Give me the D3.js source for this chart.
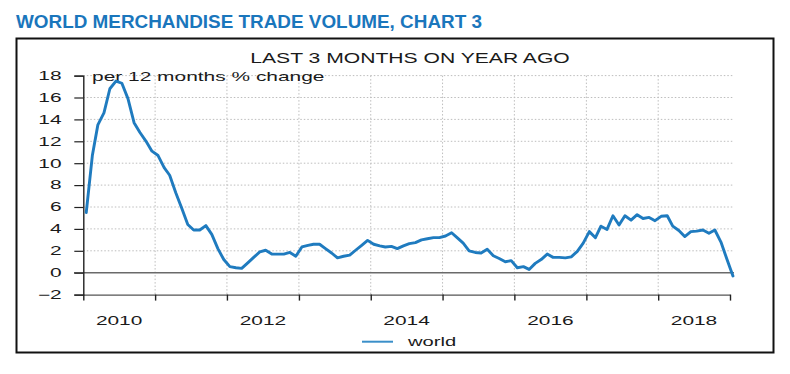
<!DOCTYPE html>
<html>
<head>
<meta charset="utf-8">
<script src="https://cdn.jsdelivr.net/npm/d3@7"></script>
<style>
  html, body { margin: 0; padding: 0; background: #fff; }
  svg { display: block; font-family: "Liberation Sans", Arial, Helvetica, sans-serif; }
</style>
</head>
<body>
<svg id="chart" width="790" height="374"></svg>
<script>
// ---- data ----
const startMonth = "2010-01";
const worldValues = [
  5.5, 10.7, 13.5, 14.6, 16.8, 17.5, 17.3, 15.9, 13.7, 12.8, 12.0, 11.1,
  10.7, 9.6, 8.9, 7.3, 5.9, 4.4, 3.9, 3.9, 4.3, 3.5, 2.2, 1.2,
  0.55, 0.45, 0.4, 0.9, 1.4, 1.9, 2.05, 1.7, 1.7, 1.7, 1.85, 1.5,
  2.35, 2.5, 2.6, 2.6, 2.2, 1.8, 1.35, 1.5, 1.6, 2.05, 2.5, 2.95,
  2.6, 2.45, 2.35, 2.4, 2.2, 2.45, 2.65, 2.75, 3.0, 3.1, 3.2, 3.2,
  3.35, 3.65, 3.2, 2.7, 2.0, 1.85, 1.8, 2.15, 1.55, 1.3, 1.0, 1.1,
  0.45, 0.55, 0.3, 0.85, 1.2, 1.7, 1.4, 1.4, 1.35, 1.45, 1.95, 2.7,
  3.75, 3.2, 4.25, 3.95, 5.2, 4.35, 5.2, 4.8, 5.3, 4.95, 5.05, 4.75,
  5.15, 5.2, 4.25, 3.85, 3.3, 3.75, 3.8, 3.9, 3.6, 3.9, 2.8, 1.25,
  -0.3
];
const yTicks = [-2, 0, 2, 4, 6, 8, 10, 12, 14, 16, 18];
const yearTicks = [2010, 2011, 2012, 2013, 2014, 2015, 2016, 2017, 2018, 2019];
const yearLabels = [2010, 2012, 2014, 2016, 2018];
const titleText = "WORLD MERCHANDISE TRADE VOLUME, CHART 3";
const subtitleText = "LAST 3 MONTHS ON YEAR AGO";
const unitText = "per 12 months % change";
const seriesName = "world";

// ---- build ----
const svg = d3.select("#chart");
const parseMonth = d3.timeParse("%Y-%m");
const start = parseMonth(startMonth);
const data = worldValues.map((v, i) => ({
  date: d3.timeDay.offset(d3.timeMonth.offset(start, i), 15),
  value: v
}));

const x = d3.scaleTime()
  .domain([new Date(2010, 0, 1), new Date(2019, 0, 1)])
  .range([83.3, 730]);
const y = d3.scaleLinear().domain([-2, 18]).range([294.6, 75.6]);

const SX_NUM = 1.74; // horizontal stretch of the embedded chart's numbers

function stretchedText(g, px, py, txt, size, anchor, sx) {
  return g.append("text")
    .attr("transform", `translate(${px},${py}) scale(${sx},1)`)
    .attr("text-anchor", anchor)
    .attr("font-size", size)
    .attr("fill", "#1a1a1a")
    .text(txt);
}

// title
svg.append("text")
  .attr("x", 16).attr("y", 28)
  .attr("font-size", 18.9).attr("font-weight", "bold")
  .attr("fill", "#1a76bc")
  .text(titleText);

// frame
svg.append("rect")
  .attr("x", 16.5).attr("y", 38.5).attr("width", 757).attr("height", 314)
  .attr("fill", "none").attr("stroke", "#111").attr("stroke-width", 2);

// gridlines
const grid = svg.append("g");
grid.selectAll("line.h").data(yTicks.filter(t => t > 0)).join("line")
  .attr("x1", x.range()[0]).attr("x2", x.range()[1] + 4)
  .attr("y1", d => y(d)).attr("y2", d => y(d))
  .attr("stroke", "#bdbdbd").attr("stroke-width", 1)
  .attr("stroke-dasharray", "1.5,2");
grid.selectAll("line.v").data(yearTicks.slice(1, -1)).join("line")
  .attr("x1", d => x(new Date(d, 0, 1))).attr("x2", d => x(new Date(d, 0, 1)))
  .attr("y1", y(18)).attr("y2", y(-2))
  .attr("stroke", "#bdbdbd").attr("stroke-width", 1)
  .attr("stroke-dasharray", "1.5,2");

// zero line
svg.append("line")
  .attr("x1", 74).attr("x2", x.range()[1] + 4)
  .attr("y1", y(0)).attr("y2", y(0))
  .attr("stroke", "#6a6a6a").attr("stroke-width", 1.6);

// y axis
const yAxis = d3.axisLeft(y).tickValues(yTicks).tickSize(9).tickFormat("");
const yg = svg.append("g").attr("transform", `translate(${x.range()[0]},0)`).call(yAxis);
yg.select(".domain").attr("stroke", "#222").attr("stroke-width", 1.4);
yg.selectAll(".tick line").attr("stroke", "#222").attr("stroke-width", 1.2);
const ylab = svg.append("g");
yTicks.forEach(t => {
  stretchedText(ylab, 61.5, y(t) + 4.3, d3.format("")(t).replace("-", "\u2212"), 12, "end", SX_NUM);
});

// x axis
const xAxis = d3.axisBottom(x)
  .tickValues(yearTicks.map(yv => new Date(yv, 0, 1)))
  .tickSize(6).tickSizeOuter(0).tickFormat("");
const xg = svg.append("g").attr("transform", `translate(0,${y(-2)})`).call(xAxis);
xg.select(".domain").attr("stroke", "#555").attr("stroke-width", 1.4);
xg.selectAll(".tick line").attr("stroke", "#222").attr("stroke-width", 1.4);
const xlab = svg.append("g");
yearLabels.forEach(yr => {
  const cx = x(new Date(yr, 6, 2));
  stretchedText(xlab, cx, 325, String(yr), 12, "middle", SX_NUM);
});

// subtitle and unit
stretchedText(svg, 410, 62.5, subtitleText, 14, "middle", 1.51);
stretchedText(svg, 92, 81, unitText, 13, "start", 1.61);

// line
const line = d3.line().x(d => x(d.date)).y(d => y(d.value));
svg.append("path").datum(data)
  .attr("d", line)
  .attr("fill", "none")
  .attr("stroke", "#1f7bbf")
  .attr("stroke-width", 2.9)
  .attr("stroke-linejoin", "round")
  .attr("stroke-linecap", "round");

// legend
svg.append("line")
  .attr("x1", 362).attr("x2", 393).attr("y1", 341.7).attr("y2", 341.7)
  .attr("stroke", "#3a8fc9").attr("stroke-width", 2);
stretchedText(svg, 408, 346, seriesName, 13, "start", 1.55);
</script>
</body>
</html>
